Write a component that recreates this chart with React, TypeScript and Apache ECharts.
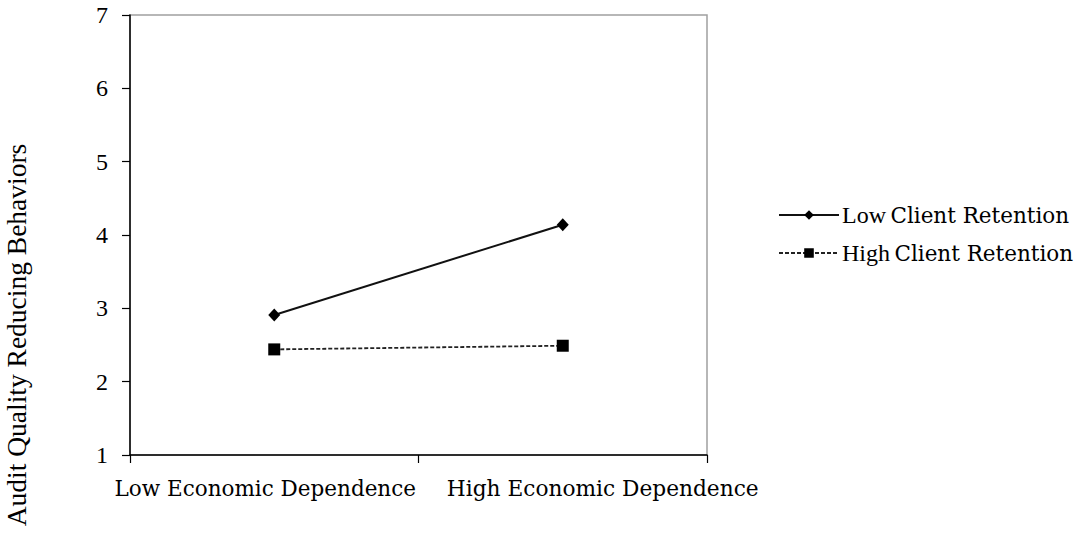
import React, { useEffect, useRef } from "react";
import * as echarts from "echarts";

const categories = ["Low Economic Dependence", "High Economic Dependence"];
const lowRetention = [2.91, 4.14];
const highRetention = [2.44, 2.49];
const seriesNames = ["Low Client Retention", "High Client Retention"];
const yTitle = "Audit Quality Reducing Behaviors";

export default function App() {
  const ref = useRef<HTMLDivElement>(null);
  useEffect(() => {
    if (!ref.current) return;
    const chart = echarts.init(ref.current, null, { renderer: "svg" });
    chart.setOption({
      animation: false,
      backgroundColor: "#ffffff",
      grid: {
        left: 130,
        right: 377,
        top: 15,
        bottom: 80,
        show: true,
        borderColor: "#a0a0a0",
        borderWidth: 1.5,
        backgroundColor: "transparent",
      },
      xAxis: {
        type: "category",
        data: categories,
        boundaryGap: true,
        axisLine: { lineStyle: { color: "#000", width: 1.5 } },
        axisTick: { show: true, length: 8, lineStyle: { color: "#000", width: 1.2 } },
        axisLabel: {
          margin: 22,
          color: "#000",
          formatter: (v: string, i: number) => (i === 0 ? `{lo|${v}}` : `{hi|${v}}`),
          rich: {
            lo: { fontFamily: "DejaVu Serif", fontSize: 21.5, color: "#000", padding: [0, 18, 0, 0] },
            hi: { fontFamily: "DejaVu Serif", fontSize: 21.7, color: "#000", padding: [0, 0, 0, 80] },
          },
        },
        splitLine: { show: false },
      },
      yAxis: {
        type: "value",
        min: 1,
        max: 7,
        interval: 1,
        axisLine: { show: true, lineStyle: { color: "#000", width: 1.5 } },
        axisTick: { show: true, length: 8, lineStyle: { color: "#000", width: 1.2 } },
        axisLabel: { margin: 22, color: "#000", fontFamily: "Liberation Serif", fontSize: 24 },
        splitLine: { show: false },
      },
      legend: {
        orient: "vertical",
        left: 773,
        top: 198,
        itemWidth: 60,
        itemHeight: 12,
        itemGap: 14,
        data: seriesNames,
        formatter: (name: string) => {
          const idx = name.indexOf(" ");
          return `{a|${name.slice(0, idx)}}{s| }{b|${name.slice(idx + 1)}}`;
        },
        textStyle: {
          color: "#000",
          padding: [0, 0, 0, -2],
          rich: {
            a: { fontFamily: "Liberation Serif", fontSize: 24, color: "#000" },
            s: { fontFamily: "DejaVu Serif", fontSize: 14, color: "#000" },
            b: { fontFamily: "DejaVu Serif", fontSize: 21.5, color: "#000" },
          },
        },
      },
      graphic: [
        {
          type: "text",
          x: 16,
          y: 335,
          rotation: Math.PI / 2,
          style: {
            text: yTitle,
            fontFamily: "Liberation Serif",
            fontSize: 27.5,
            fill: "#000",
            textAlign: "center",
            textVerticalAlign: "middle",
          },
        },
      ],
      series: [
        {
          name: seriesNames[0],
          type: "line",
          data: lowRetention,
          symbol: "diamond",
          symbolSize: [12, 13],
          lineStyle: { color: "#111", width: 2, type: "solid" },
          itemStyle: { color: "#000" },
        },
        {
          name: seriesNames[1],
          type: "line",
          data: highRetention,
          symbol: "rect",
          symbolSize: 12,
          lineStyle: { color: "#222", width: 1.8, type: [4, 2] },
          itemStyle: { color: "#000" },
        },
      ],
    });
    return () => chart.dispose();
  }, []);
  return (
    <div
      ref={ref}
      style={{ position: "fixed", left: 0, top: 0, width: 1084, height: 535, background: "#fff" }}
    />
  );
}
